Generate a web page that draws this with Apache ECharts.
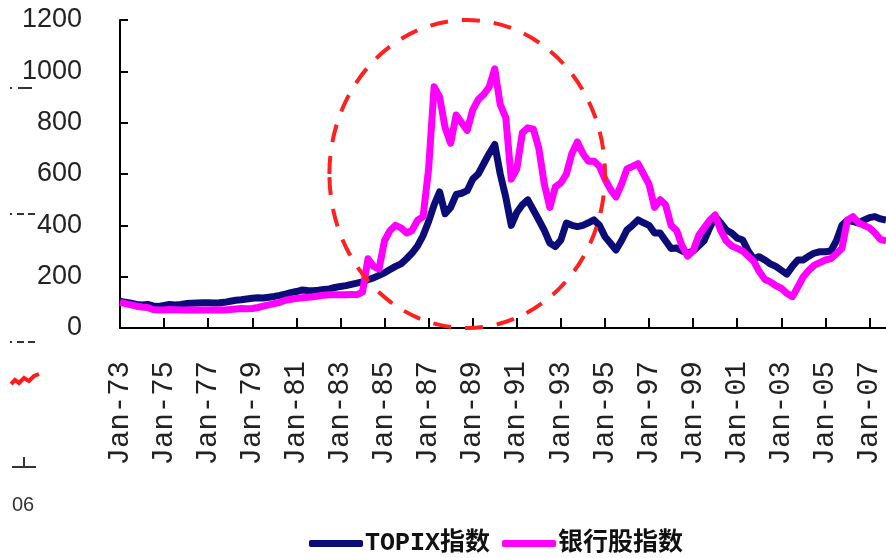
<!DOCTYPE html>
<html><head><meta charset="utf-8">
<script src="https://cdn.jsdelivr.net/npm/echarts@6/dist/echarts.min.js"></script>
<style>html,body{margin:0;padding:0;background:#fff}#c{width:886px;height:558px}</style>
</head><body><div id="c"></div>
<script>
// ---- data ----
const quarterNames = ['Jan','Apr','Jul','Oct'];
const firstYear = 1973, lastYear = 2007;
const categories = [];
for (let y = firstYear; y <= lastYear; y++) {
  for (const m of quarterNames) categories.push(m + '-' + String(y % 100).padStart(2, '0'));
}
const yTicks = [0, 200, 400, 600, 800, 1000, 1200];
const seriesNames = ['TOPIX指数', '银行股指数'];
const topix = [
  105,100,97,92,   90,92,86,84,    88,92,90,92,    95,96,97,98,    98,97,98,100,
  104,108,110,113, 116,118,117,120, 123,127,132,138, 142,148,146,145, 147,150,152,158,
  162,165,170,175, 180,188,195,205, 215,228,240,250, 270,292,320,360, 415,480,530,445,
  470,520,525,535, 580,600,640,680, 715,600,510,400, 450,480,499,460, 421,380,331,317,
  343,409,400,395, 400,410,421,400, 356,330,304,340, 382,400,421,410, 400,370,370,340,
  310,312,300,292, 300,320,340,390, 434,410,382,370, 350,343,300,270, 278,265,250,240,
  225,210,240,265, 265,280,292,297, 297,300,340,400, 420,415,409,420, 430,434,425,420
];
const bank = [
  100,95,90,85,    82,80,72,70,    70,72,71,70,    70,71,70,70,    70,70,71,70,
  72,74,76,75,     76,80,85,90,    95,100,108,112, 115,118,120,122, 125,128,130,130,
  130,130,131,130, 140,270,240,230, 340,380,400,390, 370,380,420,434, 620,940,900,780,
  720,830,800,770, 850,890,910,940, 1010,870,820,580, 620,760,780,775, 700,560,470,550,
  565,600,680,725, 680,650,650,630, 580,540,511,560, 620,630,640,600, 560,470,500,480,
  400,380,320,280, 300,360,390,420, 440,380,340,320, 310,300,280,260, 220,190,180,165,
  155,135,122,160, 200,225,245,255, 265,270,290,310, 420,434,410,400, 390,370,345,340
];
// annotation ellipse (in data terms): centred on Oct-88, spanning 0..1200
const circleCenterIndex = 63;
const circleHalfWidth = 25; // quarters
const circleValueRange = [0, 1200];

const chart = echarts.init(document.getElementById('c'), null, {renderer: 'canvas'});
const everyTwoYears = function (i) { return i % 8 === 0; };
const option = {
  animation: false,
  backgroundColor: '#ffffff',
  grid: {left: 120, top: 20, right: -2, bottom: 230},
  legend: {
    data: seriesNames,
    left: 304, top: 526,
    icon: 'roundRect',
    itemWidth: 54, itemHeight: 7, itemGap: 12,
    textStyle: {fontFamily: "'Liberation Mono','Noto Sans CJK SC'", fontSize: 25, fontWeight: 'bold', color: '#111', padding: [0,0,0,-3]}
  },
  xAxis: {
    type: 'category', data: categories, boundaryGap: false,
    axisLine: {show: true, lineStyle: {color: '#000', width: 2}},
    axisTick: {show: true, inside: true, length: 10, interval: everyTwoYears, lineStyle: {color: '#000', width: 2}},
    axisLabel: {show: true, interval: everyTwoYears, rotate: 90, margin: 33,
      fontFamily: 'Liberation Mono', fontSize: 29, color: '#222'},
    splitLine: {show: false}
  },
  yAxis: {
    type: 'value', min: yTicks[0], max: yTicks[yTicks.length - 1], interval: 200,
    axisLine: {show: true, lineStyle: {color: '#000', width: 2}},
    axisTick: {show: true, inside: true, length: 8, lineStyle: {color: '#000', width: 2}},
    axisLabel: {margin: 38, fontFamily: 'Liberation Sans', fontSize: 27, color: '#222',
      formatter: function (v) { return String(v); }},
    splitLine: {show: false}
  },
  series: [
    {name: seriesNames[0], type: 'line', data: topix, showSymbol: false, symbol: 'none',
      lineStyle: {color: '#0c0c78', width: 7, join: 'round'}, itemStyle: {color: '#0c0c78'}, z: 2},
    {name: seriesNames[1], type: 'line', data: bank, showSymbol: false, symbol: 'none',
      lineStyle: {color: '#ff00ff', width: 7, join: 'round'}, itemStyle: {color: '#ff00ff'}, z: 3}
  ]
};
chart.setOption(option);

const cMid = (circleValueRange[0] + circleValueRange[1]) / 2;
const pc = chart.convertToPixel({gridIndex: 0}, [circleCenterIndex, cMid]);
const pl = chart.convertToPixel({gridIndex: 0}, [circleCenterIndex - circleHalfWidth, cMid]);
const pt = chart.convertToPixel({gridIndex: 0}, [circleCenterIndex, circleValueRange[1]]);
const artifact = {stroke: '#333', lineWidth: 2};
chart.setOption({
  graphic: [
    {type: 'ellipse', shape: {cx: pc[0], cy: pc[1], rx: pc[0] - pl[0], ry: pc[1] - pt[1]},
      style: {fill: null, stroke: '#ff2020', lineWidth: 4, lineDash: [18, 14]}, z: 10, silent: true},
    // stray marks on the left edge of the source picture
    {type: 'line', shape: {x1: 10, y1: 88, x2: 12, y2: 88}, style: artifact},
    {type: 'line', shape: {x1: 18, y1: 88, x2: 32, y2: 88}, style: artifact},
    {type: 'line', shape: {x1: 10, y1: 214, x2: 12, y2: 214}, style: artifact},
    {type: 'line', shape: {x1: 17, y1: 214, x2: 24, y2: 214}, style: artifact},
    {type: 'line', shape: {x1: 28, y1: 214, x2: 35, y2: 214}, style: artifact},
    {type: 'line', shape: {x1: 10, y1: 342, x2: 12, y2: 342}, style: artifact},
    {type: 'line', shape: {x1: 17, y1: 342, x2: 24, y2: 342}, style: artifact},
    {type: 'line', shape: {x1: 28, y1: 342, x2: 35, y2: 342}, style: artifact},
    {type: 'polyline', shape: {points: [[11,384],[15,380],[19,383],[24,378],[29,381],[34,376],[39,374]]},
      style: {stroke: '#ff1a1a', lineWidth: 4, fill: null}},
    {type: 'line', shape: {x1: 12, y1: 467, x2: 36, y2: 467}, style: artifact},
    {type: 'line', shape: {x1: 24, y1: 457, x2: 24, y2: 467}, style: artifact},
    {type: 'text', left: 12, top: 495, style: {text: '06', fontFamily: 'Liberation Sans', fontSize: 20, fill: '#333'}}
  ]
});
</script></body></html>
